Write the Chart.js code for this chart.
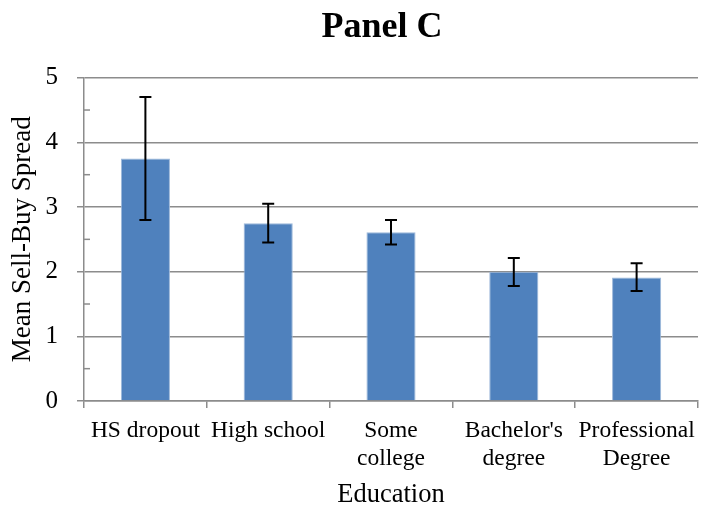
<!DOCTYPE html>
<html><head><meta charset="utf-8">
<script src="https://cdn.jsdelivr.net/npm/chart.js@4/dist/chart.umd.min.js"></script>
<style>html,body{margin:0;padding:0;background:#fff}</style>
</head><body>
<canvas id="c" width="704" height="507"></canvas>
<script>
const categories = [["HS dropout"],["High school"],["Some","college"],["Bachelor's","degree"],["Professional","Degree"]];
const means = [3.75, 2.75, 2.61, 2.0, 1.91];
const errLow = [2.80, 2.45, 2.42, 1.78, 1.70];
const errHigh = [4.70, 3.05, 2.80, 2.21, 2.13];
const minorTicks = [0.5, 1.5, 2.5, 3.5, 4.5];

const FONT = "'Liberation Serif', 'Times New Roman', serif";
const GRID = '#8c8c8c';

const errorBarPlugin = {
  id: 'errorBars',
  afterLayout(chart) {
    if (chart.titleBlock) { chart.titleBlock.left = 60; chart.titleBlock.right = 704; }
  },
  afterDatasetsDraw(chart) {
    const ctx = chart.ctx;
    const y = chart.scales.y;
    const meta = chart.getDatasetMeta(0);
    ctx.save();
    ctx.strokeStyle = '#000';
    ctx.lineWidth = 2;
    meta.data.forEach((el, i) => {
      const x = el.x;
      const yh = y.getPixelForValue(errHigh[i]);
      const yl = y.getPixelForValue(errLow[i]);
      ctx.beginPath();
      ctx.moveTo(x, yh); ctx.lineTo(x, yl);
      ctx.moveTo(x - 6, yh); ctx.lineTo(x + 6, yh);
      ctx.moveTo(x - 6, yl); ctx.lineTo(x + 6, yl);
      ctx.stroke();
    });
    ctx.strokeStyle = GRID;
    ctx.lineWidth = 1.5;
    const ax = chart.chartArea.left;
    minorTicks.forEach(v => {
      const py = y.getPixelForValue(v);
      ctx.beginPath();
      ctx.moveTo(ax, py); ctx.lineTo(ax + 6, py);
      ctx.stroke();
    });
    ctx.restore();
  }
};

new Chart(document.getElementById('c'), {
  type: 'bar',
  data: {
    labels: categories,
    datasets: [{
      data: means,
      backgroundColor: '#4F81BD',
      borderColor: '#9DB8DA',
      borderWidth: 1,
      barPercentage: 0.4,
      categoryPercentage: 1.0
    }]
  },
  options: {
    responsive: false,
    animation: false,
    layout: { padding: { left: 0, right: 3, top: 0, bottom: 0 } },
    plugins: {
      legend: { display: false },
      tooltip: { enabled: false },
      title: {
        display: true,
        text: 'Panel C',
        color: '#000',
        font: { family: FONT, size: 36, weight: 'bold', lineHeight: 1.2 },
        padding: { top: 6, bottom: 28.5 }
      }
    },
    scales: {
      x: {
        afterFit(s) { s.height = 106; },
        grid: { offset: true, drawOnChartArea: false, color: GRID, lineWidth: 1.5, tickLength: 7 },
        border: { color: GRID, width: 1.5 },
        ticks: { color: '#000', font: { family: FONT, size: 23.5, lineHeight: 1.2 }, maxRotation: 0, autoSkip: false, padding: 9 },
        title: { display: true, text: 'Education', color: '#000', font: { family: FONT, size: 26.5, lineHeight: 0.9 }, padding: { top: 0, bottom: 0 } }
      },
      y: {
        afterFit(s) { s.width = 84; },
        min: 0, max: 5,
        grid: { color: GRID, lineWidth: 1.5, tickLength: 7 },
        border: { color: GRID, width: 1.5 },
        ticks: { stepSize: 1, color: '#000', font: { family: FONT, size: 25 }, padding: 19 },
        title: { display: true, text: 'Mean Sell-Buy Spread', color: '#000', font: { family: FONT, size: 27, lineHeight: 1.2 }, padding: { top: 7, bottom: 0 } }
      }
    }
  },
  plugins: [errorBarPlugin]
});
</script>
</body></html>
